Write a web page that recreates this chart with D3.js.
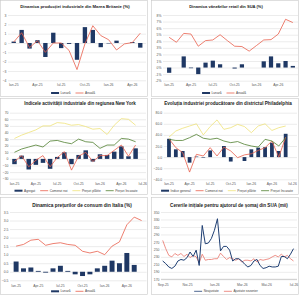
<!DOCTYPE html>
<html>
<head>
<meta charset="utf-8">
<script src="https://cdn.jsdelivr.net/npm/d3@7"></script>
<style>
html, body { margin: 0; padding: 0; background: #fff; }
svg { display: block; font-family: "Liberation Sans", Arial, sans-serif; }
</style>
</head>
<body>
<svg id="chart" width="300" height="295"></svg>
<script>
// categorii lunare si etichete
const monthsRo = ["Ian","Feb","Mar","Apr","Mai","Iun","Iul","Aug","Sep","Oct","Noi","Dec"];
const months = ["Ian-25","Feb-25","Mar-25","Apr-25","Mai-25","Iun-25","Iul-25","Aug-25","Sep-25","Oct-25",
                "Noi-25","Dec-25","Ian-26","Feb-26","Mar-26","Apr-26","Mai-26","Iun-26","Iul-26"];
const quarterTicks = ["Ian-25","Apr-25","Iul-25","Oct-25","Ian-26","Apr-26","Iul-26"];

// Marea Britanie - productia industriala (%)
const ukMonthly = [0.15, 1.4, -0.6, 0.3, -1.5, 1.1, -0.55, -0.1, -1.8, 1.7, 1.4, -0.45, -0.05, 0.25, 0.0, 0.1, -0.5];
const ukAnnual  = [0.1, 1.1, -0.5, 0.25, -1.0, 0.0, 0.0, -0.8, -2.85, -0.1, 1.85, 0.8, 0.35, -0.75, -0.1, 0.05, 1.05];
const ukTicks = [3, 2, 1, 0, -1, -2, -3, -4];

// SUA - vanzari retail (%)
const usMonthly = [-0.8, 0.0, 1.7, -0.1, -1.0, 0.75, 1.05, 0.5, 0.0, -0.15, 0.5, 0, 0, 0.95, 1.7, 0.65, 1.0, 0.25];
const usAnnual  = [4.6, 3.85, 5.2, 5.1, 3.25, 4.1, 4.2, 5.0, 4.1, 3.25, 3.2, 2.5, 3.35, 4.2, 4.25, 5.1, 7.35, 6.85];
const usTicks = [8, 7, 6, 5, 4, 3, 2, 1, 0, -1, -2];

// New York - Empire State
const nyAgregat  = [-8, 5, -16, -9, -6, -15, 3, 10, -8, 6, 13, -4, 7, 6, 11, 19, 4, 16];
const nyComenzi  = [-4, 5, -12, -2, 5, -12, 2, 11, -17, 4, 10, -4, 5, 5, 13, 21, 4, 21];
const nyPlatite  = [31, 36, 40, 44, 50, 50, 55, 54, 51, 52, 49, 45, 46, 37, 51, 61, 60, 51];
const nyIncasate = [10, 15, 18, 21, 18, 27, 28, 25, 23, 30, 26, 25, 16, 21, 21, 31, 30, 26];
const nyTicks = [70, 60, 50, 40, 30, 20, 10, 0, -10, -20, -30];

// Philadelphia
const phGeneral  = [33, 14, 11, -10, 1, -1, 12, 0, 20, -8, 0, -7, 14, 17, 18, 26, 11, 42];
const phComenzi  = [33, 17, 8, -27, 5, 2, 17, 2, 18, 11, -1, 4, 6, 12, 17, 29, 0, 36];
const phPlatite  = [36, 47, 52, 56, 60, 40, 55, 67, 50, 53, 59, 55, 44, 56, 60, 48, 53, 56];
const phIncasate = [32, 30, 30, 35, 41, 34, 32, 34, 29, 26, 28, 23, 20, 18, 32, 29, 20, 35];
const phTicks = [80, 60, 40, 20, 0, -20, -40];

// Italia - preturi de consum (%)
const itMonthly = [0.6, 0.2, 0.25, 0.05, -0.05, 0.2, 0.35, 0.05, -0.15, -0.25, -0.15, 0.2, 0.35, 0.65, 0.5, 1.1, 0.4, null];
const itAnnual  = [1.5, 1.6, 1.85, 1.9, 1.55, 1.65, 1.7, 1.6, 1.55, 1.2, 1.1, 1.2, 1.0, 1.5, 1.75, 2.75, 3.2, 3.0];
const itTicks = [3.5, 3.0, 2.5, 2.0, 1.5, 1.0, 0.5, 0.0, -0.5];

// SUA - cereri initiale de somaj (mii), saptamanal
const claimsNsa = [219, 212, 203, 199, 205, 219, 223, 221, 228, 243, 231, 248, 207, 314, 265, 267, 279, 301, 332, 246, 258, 258,
                   248, 219, 225, 225, 219, 210, 203, 207, 219, 223, 207, 199, 201, 205, 203, 203, 205, 231, 231, 225, 237, 252];
const claimsSa  = [274, 252, 234, 230, 239, 234, 239, 231, 237, 228, 234, 230, 214, 237, 221, 223, 223, 225, 225, 240, 231, 223,
                   228, 225, 221, 225, 216, 221, 221, 219, 225, 216, 223, 221, 223, 225, 230, 234, 230, 237, 230, 234, 225, 219];
const claimsTicks = [350, 330, 310, 290, 270, 250, 230, 210, 190, 170];
const claimsLabels = ["Sep-25","Noi-25","Ian-26","Mar-26","Mai-26","Iul-26"];

const BAR = "#1f3864", RED = "#e8604c", YEL = "#efe27a", GRN = "#4f7f2f";

const svg = d3.select('#chart');

function panel(x0, y0, h) {
    const g = svg.append('g').attr('transform', `translate(${x0},${y0})`);
    g.append('rect')
        .attr('x', 0.5).attr('y', 0.5)
        .attr('width', 147).attr('height', h)
        .attr('fill', '#fff')
        .attr('stroke', '#c8c8c8')
        .attr('stroke-width', 0.6);
    return g;
}

// titlul: ingustat pana la latimea din model
function title(g, text, cx, y, w) {
    const t = g.append('text')
        .attr('x', cx).attr('y', y)
        .attr('text-anchor', 'middle')
        .attr('font-family', '"Liberation Sans Narrow", "Liberation Sans", Arial, sans-serif')
        .attr('font-size', 6)
        .attr('font-weight', 'bold')
        .attr('fill', '#1a1a1a')
        .text(text);
    const len = t.node().getComputedTextLength();
    if (len > w) t.attr('font-size', 6 * w / len);
}

function yAxis(g, y, ticks, fmt, gx) {
    g.append('g')
        .attr('transform', `translate(${gx[0]},0)`)
        .call(d3.axisLeft(y).tickValues(ticks).tickFormat(fmt)
            .tickSize(-(gx[1] - gx[0])).tickPadding(1.5))
        .call(a => a.select('.domain').remove())
        .call(a => a.selectAll('line').attr('stroke', '#d9d9d9').attr('stroke-width', 0.5))
        .call(a => a.selectAll('text').attr('font-size', 3.4).attr('fill', '#595959'));
}

function xAxis(g, scale, ticks, ly) {
    g.append('g')
        .attr('transform', `translate(0,${ly - 1.2})`)
        .call(d3.axisBottom(scale).tickValues(ticks).tickSize(0).tickPadding(0))
        .call(a => a.select('.domain').remove())
        .call(a => a.selectAll('text').attr('font-size', 3.4).attr('fill', '#595959'));
}

function legend(g, items, cx, y) {
    const lg = g.append('g');
    let x = 0;
    items.forEach(it => {
        if (it.type === 'bar') {
            lg.append('rect').attr('x', x).attr('y', y - 1).attr('width', 8).attr('height', 2).attr('fill', it.color);
        } else {
            lg.append('line').attr('x1', x).attr('x2', x + 8).attr('y1', y).attr('y2', y)
                .attr('stroke', it.color).attr('stroke-width', 0.8);
        }
        const t = lg.append('text')
            .attr('x', x + 9.5).attr('y', y).attr('dy', '0.35em')
            .attr('font-size', 3.2).attr('fill', '#404040')
            .text(it.label);
        x += 9.5 + t.node().getComputedTextLength() + 5;
    });
    lg.attr('transform', `translate(${cx - (x - 5) / 2},0)`);
}

function combo(g, o) {
    const x = d3.scaleBand().domain(o.cats).range(o.xRange).padding(o.pad);
    const y = d3.scaleLinear().domain(o.yDomain).range(o.yRange);
    const cx = c => x(c) + x.bandwidth() / 2;

    yAxis(g, y, o.yTicks, o.yFmt, o.gridX);

    const barData = o.bars.map((v, i) => ({c: o.cats[i], v})).filter(d => d.v != null);
    g.append('g').selectAll('rect')
        .data(barData)
        .join('rect')
        .attr('x', d => x(d.c))
        .attr('y', d => y(Math.max(0, d.v)))
        .attr('width', x.bandwidth())
        .attr('height', d => Math.abs(y(d.v) - y(0)))
        .attr('fill', BAR);

    o.lines.forEach(l => {
        const line = d3.line()
            .defined(d => d.v != null)
            .x(d => cx(d.c))
            .y(d => y(d.v));
        g.append('path')
            .datum(l.values.map((v, i) => ({c: o.cats[i], v})))
            .attr('d', line)
            .attr('fill', 'none')
            .attr('stroke', l.color)
            .attr('stroke-width', l.width || 0.8)
            .attr('stroke-linejoin', 'round');
    });

    xAxis(g, x, o.xTicks.filter(t => o.cats.includes(t)), o.xLabelY);
}

// 1. Marea Britanie
const p1 = panel(0, 0, 96);
title(p1, "Dinamica producției industriale din Marea Britanie (%)", 75, 8, 110);
combo(p1, {
    cats: months.slice(0, 17), bars: ukMonthly, pad: 0.45,
    lines: [{values: ukAnnual, color: RED}],
    yDomain: [-4, 3], yRange: [80.3, 15], xRange: [8, 146], gridX: [8, 146],
    yTicks: ukTicks, yFmt: d3.format('d'), xTicks: quarterTicks, xLabelY: 85
});
legend(p1, [{type: 'bar', color: BAR, label: 'Lunară'}, {type: 'line', color: RED, label: 'Anuală'}], 73, 93);

// 2. SUA retail
const p2 = panel(151, 0, 96);
title(p2, "Dinamica vânzărilor retail din SUA (%)", 75, 8, 74);
combo(p2, {
    cats: months.slice(0, 18), bars: usMonthly, pad: 0.42,
    lines: [{values: usAnnual, color: RED}],
    yDomain: [-2, 8], yRange: [80.7, 15], xRange: [13, 147], gridX: [12, 147],
    yTicks: usTicks, yFmt: d => d + '%', xTicks: quarterTicks, xLabelY: 85
});
legend(p2, [{type: 'bar', color: BAR, label: 'Lunară'}, {type: 'line', color: RED, label: 'Anuală'}], 73, 93);

// 3. New York
const p3 = panel(0, 98, 96);
title(p3, "Indicele activității industriale din regiunea New York", 80, 7, 112);
combo(p3, {
    cats: months, bars: nyAgregat, pad: 0.37,
    lines: [{values: nyComenzi, color: RED}, {values: nyPlatite, color: YEL}, {values: nyIncasate, color: GRN}],
    yDomain: [-30, 70], yRange: [80.7, 14.7], xRange: [9.6, 147.6], gridX: [10, 146],
    yTicks: nyTicks, yFmt: d3.format('d'), xTicks: quarterTicks, xLabelY: 86
});
legend(p3, [
    {type: 'bar', color: BAR, label: 'Agregat'},
    {type: 'line', color: RED, label: 'Comenzi noi'},
    {type: 'line', color: YEL, label: 'Prețuri plătite'},
    {type: 'line', color: GRN, label: 'Prețuri încasate'}
], 76, 92.7);

// 4. Philadelphia
const p4 = panel(151, 98, 96);
title(p4, "Evoluția industriei producătoare din districtul Philadelphia", 77, 7, 128);
combo(p4, {
    cats: months, bars: phGeneral, pad: 0.45,
    lines: [{values: phComenzi, color: RED}, {values: phPlatite, color: YEL}, {values: phIncasate, color: GRN}],
    yDomain: [-40, 80], yRange: [81.3, 14.7], xRange: [13, 146.5], gridX: [12.7, 146],
    yTicks: phTicks, yFmt: d3.format('.1f'), xTicks: quarterTicks, xLabelY: 86
});
legend(p4, [
    {type: 'bar', color: BAR, label: 'Indice general'},
    {type: 'line', color: RED, label: 'Comenzi noi'},
    {type: 'line', color: YEL, label: 'Prețuri plătite'},
    {type: 'line', color: GRN, label: 'Prețuri încasate'}
], 76, 92.7);

// 5. Italia
const p5 = panel(0, 197, 97);
title(p5, "Dinamica prețurilor de consum din Italia (%)", 82, 9.5, 100);
combo(p5, {
    cats: months.slice(0, 18), bars: itMonthly, pad: 0.33,
    lines: [{values: itAnnual, color: RED}],
    yDomain: [-0.5, 3.5], yRange: [83.3, 15], xRange: [11.2, 146.5], gridX: [10, 146.5],
    yTicks: itTicks, yFmt: d3.format('.1f'), xTicks: quarterTicks, xLabelY: 88.3
});
legend(p5, [{type: 'bar', color: BAR, label: 'Lunară'}, {type: 'line', color: RED, label: 'Anuală'}], 73, 94.3);

// 6. Cereri de somaj
const p6 = panel(151, 197, 97);
title(p6, "Cererile inițiale pentru ajutorul de șomaj din SUA (mii)", 78, 9.5, 118);
const weeks = d3.timeSaturday.range(new Date(2025, 8, 6), new Date(2026, 6, 5));
const monthLabel = d => monthsRo[d.getMonth()] + '-' + String(d.getFullYear()).slice(2);
const xw = d3.scaleTime().domain(d3.extent(weeks)).range([11.7, 142.5]);
const yw = d3.scaleLinear().domain([170, 350]).range([82.3, 15]);
yAxis(p6, yw, claimsTicks, d3.format('d'), [10, 146]);
p6.append('line')
    .attr('x1', 10).attr('x2', 146).attr('y1', yw(170)).attr('y2', yw(170))
    .attr('stroke', '#a6a6a6').attr('stroke-width', 0.5);
[{values: claimsSa, color: '#e8736a', width: 0.8}, {values: claimsNsa, color: '#1f3f73', width: 1}].forEach(s => {
    p6.append('path')
        .datum(weeks.map((d, i) => ({d, v: s.values[i]})))
        .attr('d', d3.line().x(d => xw(d.d)).y(d => yw(d.v)))
        .attr('fill', 'none')
        .attr('stroke', s.color)
        .attr('stroke-width', s.width)
        .attr('stroke-linejoin', 'round');
});
const claimTickDates = claimsLabels.map(l => weeks.find(d => monthLabel(d) === l));
p6.append('g')
    .attr('transform', `translate(0,${87.3 - 1.2})`)
    .call(d3.axisBottom(xw).tickValues(claimTickDates).tickFormat(monthLabel).tickSize(0).tickPadding(0))
    .call(a => a.select('.domain').remove())
    .call(a => a.selectAll('text').attr('font-size', 3.4).attr('fill', '#595959'));
legend(p6, [
    {type: 'line', color: '#1f3f73', label: 'Neajustate'},
    {type: 'line', color: '#e8736a', label: 'Ajustate sezonier'}
], 75, 94.3);
</script>
</body>
</html>
